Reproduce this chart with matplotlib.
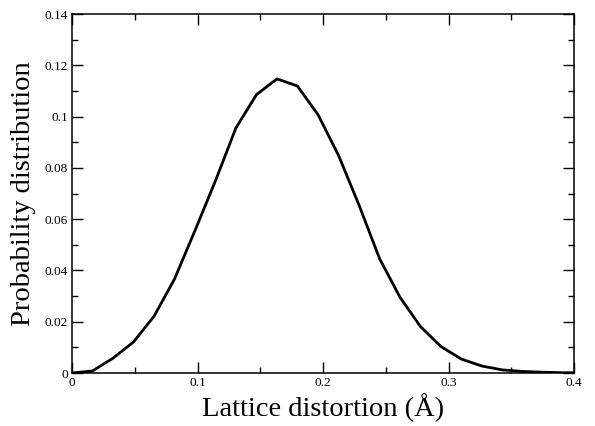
import matplotlib
matplotlib.use("Agg")
import matplotlib.pyplot as plt
from matplotlib.ticker import MultipleLocator

# lattice distortion (Angstrom) and its probability distribution
distortion = [0.0, 0.0163, 0.0327, 0.0490, 0.0653, 0.0816, 0.0980, 0.1143,
              0.1306, 0.1470, 0.1633, 0.1796, 0.1960, 0.2123, 0.2286, 0.2450,
              0.2613, 0.2776, 0.2939, 0.3103, 0.3266, 0.3429, 0.3592, 0.3756,
              0.3919, 0.4000]
probability = [0.0, 0.0008, 0.0058, 0.0121, 0.0221, 0.0366, 0.0556, 0.0750,
               0.0956, 0.1086, 0.1147, 0.1119, 0.1007, 0.0849, 0.0655, 0.0446,
               0.0295, 0.0181, 0.0103, 0.0054, 0.0027, 0.0012, 0.0006, 0.0003,
               0.0001, 0.0001]

plt.rcParams["font.family"] = ["Liberation Serif", "DejaVu Serif"]

fig = plt.figure(figsize=(5.95, 4.26), dpi=100)
ax = fig.add_axes([0.121, 0.1244, 0.844, 0.8427])

ax.plot(distortion, probability, color="black", linewidth=2.0)

ax.set_xlim(0, 0.4)
ax.set_ylim(0, 0.14)
ax.xaxis.set_major_locator(MultipleLocator(0.1))
ax.xaxis.set_minor_locator(MultipleLocator(0.05))
ax.yaxis.set_major_locator(MultipleLocator(0.02))
ax.yaxis.set_minor_locator(MultipleLocator(0.01))
ax.set_xticks([0, 0.1, 0.2, 0.3, 0.4])
ax.set_xticklabels(["0", "0.1", "0.2", "0.3", "0.4"])
ax.set_yticks([0, 0.02, 0.04, 0.06, 0.08, 0.1, 0.12, 0.14])
ax.set_yticklabels(["0", "0.02", "0.04", "0.06", "0.08", "0.1", "0.12", "0.14"])

ax.tick_params(which="both", direction="in", top=True, right=True,
               labelsize=9.5, width=1.0)
ax.tick_params(which="major", length=8, pad=3)
ax.tick_params(which="minor", length=4.5)
for sp in ax.spines.values():
    sp.set_linewidth(1.1)

ax.set_xlabel("Lattice distortion (Å)", fontsize=20.5, labelpad=3)
ax.set_ylabel("Probability distribution", fontsize=20.5)
ax.yaxis.set_label_coords(-0.072, 0.5)

fig.savefig("out.png", dpi=100)
plt.close(fig)
